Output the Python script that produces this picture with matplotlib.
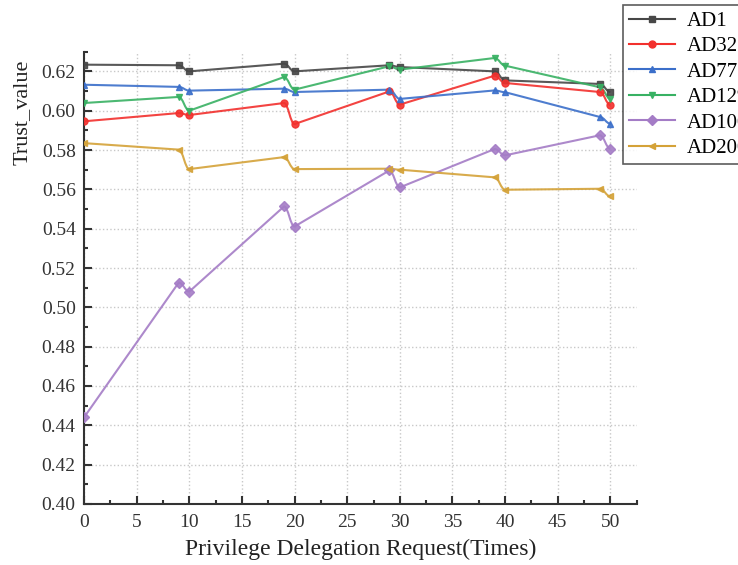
import numpy as np
import matplotlib
matplotlib.use("Agg")
import matplotlib.pyplot as plt
from matplotlib.path import Path
from matplotlib.patches import PathPatch
from matplotlib.lines import Line2D
from matplotlib.ticker import MultipleLocator, FormatStrFormatter

###############################################################################
#Data
###############################################################################
x = [0, 9, 10, 19, 20, 29, 30, 39, 40, 49, 50]

ad1 = [0.6234, 0.6231, 0.6200, 0.6239, 0.6200, 0.6231, 0.6222, 0.6200, 0.6154, 0.6136, 0.6095]
ad32 = [0.5946, 0.5988, 0.5978, 0.6039, 0.5932, 0.6098, 0.6031, 0.6178, 0.6141, 0.6095, 0.6029]
ad77 = [0.6132, 0.6121, 0.6102, 0.6112, 0.6095, 0.6107, 0.6060, 0.6103, 0.6094, 0.5968, 0.5934]
ad129 = [0.6039, 0.6070, 0.6000, 0.6171, 0.6107, 0.6226, 0.6209, 0.6268, 0.6229, 0.6119, 0.6060]
ad100 = [0.4440, 0.5126, 0.5080, 0.5513, 0.5411, 0.5696, 0.5610, 0.5805, 0.5773, 0.5875, 0.5806]
ad200 = [0.5835, 0.5802, 0.5703, 0.5764, 0.5703, 0.5705, 0.5700, 0.5661, 0.5598, 0.5603, 0.5564]

names = ["AD1", "AD32", "AD77", "AD129", "AD100", "AD200"]
series = [ad1, ad32, ad77, ad129, ad100, ad200]
colors = ["#474747", "#f2302d", "#3b6fca", "#38b163", "#a47cc6", "#d4a238"]
markers = ["s", "o", "^", "v", "D", "<"]

###############################################################################
#Connecting path: straight on long gaps, S-shaped bezier on the 1-step gaps
###############################################################################
def smooth_path(xs, ys):
    verts = [(xs[0], ys[0])]
    codes = [Path.MOVETO]
    for i in range(len(xs) - 1):
        x0, y0, x1, y1 = xs[i], ys[i], xs[i + 1], ys[i + 1]
        if x1 - x0 > 1.5:
            verts.append((x1, y1))
            codes.append(Path.LINETO)
        else:
            d = (x1 - x0) / 2.5
            verts += [(x0 + d, y0), (x1 - d, y1), (x1, y1)]
            codes += [Path.CURVE4] * 3
    return Path(verts, codes)

###############################################################################
#Plot
###############################################################################
plt.rcParams['font.family'] = ["Liberation Serif", "DejaVu Serif"]

fig = plt.figure(figsize=(7.38, 5.65), dpi=100)
ax = fig.add_axes([0.1138, 0.108, 0.749, 0.8005])

for ys, c, mk in zip(series, colors, markers):
    ax.add_patch(PathPatch(smooth_path(x, ys), facecolor="none", edgecolor=c,
                           linewidth=1.5, alpha=0.9, zorder=3))
    ax.plot(x, ys, linestyle="none", marker=mk, markersize=5, color=c, alpha=0.9, zorder=4)

ax.set_xlim(0, 52.5)
ax.set_ylim(0.40, 0.63)

ax.xaxis.set_major_locator(MultipleLocator(5))
ax.xaxis.set_minor_locator(MultipleLocator(2.5))
ax.yaxis.set_major_locator(MultipleLocator(0.02))
ax.yaxis.set_minor_locator(MultipleLocator(0.01))
ax.yaxis.set_major_formatter(FormatStrFormatter("%.2f"))

ax.tick_params(which="both", direction="in", width=1.5, labelsize=14, colors="#333333")
ax.tick_params(which="major", length=6)
ax.tick_params(which="minor", length=3)
ax.tick_params(axis="x", pad=7)
ax.tick_params(axis="y", pad=6)

ax.spines['top'].set_visible(False)
ax.spines['right'].set_visible(False)
ax.spines['left'].set_linewidth(1.5)
ax.spines['bottom'].set_linewidth(1.5)
ax.spines['left'].set_color("#333333")
ax.spines['bottom'].set_color("#333333")

ax.grid(True, which="major", linestyle=":", color="#c8c8c8", linewidth=1)
ax.set_axisbelow(True)

ax.set_xlabel("Privilege Delegation Request(Times)", fontsize=17, labelpad=6, color="#222222")
ax.set_ylabel("Trust_value", fontsize=16, color="#222222")
ax.yaxis.set_label_coords(-0.094, 0.867)

#Legend
handles = [Line2D([], [], color=c, marker=mk, markersize=5, linewidth=1.5, label=n)
           for n, c, mk in zip(names, colors, markers)]
leg = fig.legend(handles=handles, loc="upper left", bbox_to_anchor=(623 / 738, 1 - 5 / 565),
                 fontsize=15, frameon=True, fancybox=False, handlelength=2.2,
                 borderpad=0.3, labelspacing=0.28, handletextpad=0.55, borderaxespad=0)
leg.get_frame().set_edgecolor("#333333")
leg.get_frame().set_linewidth(1.2)

fig.savefig("out.png", dpi=100)
